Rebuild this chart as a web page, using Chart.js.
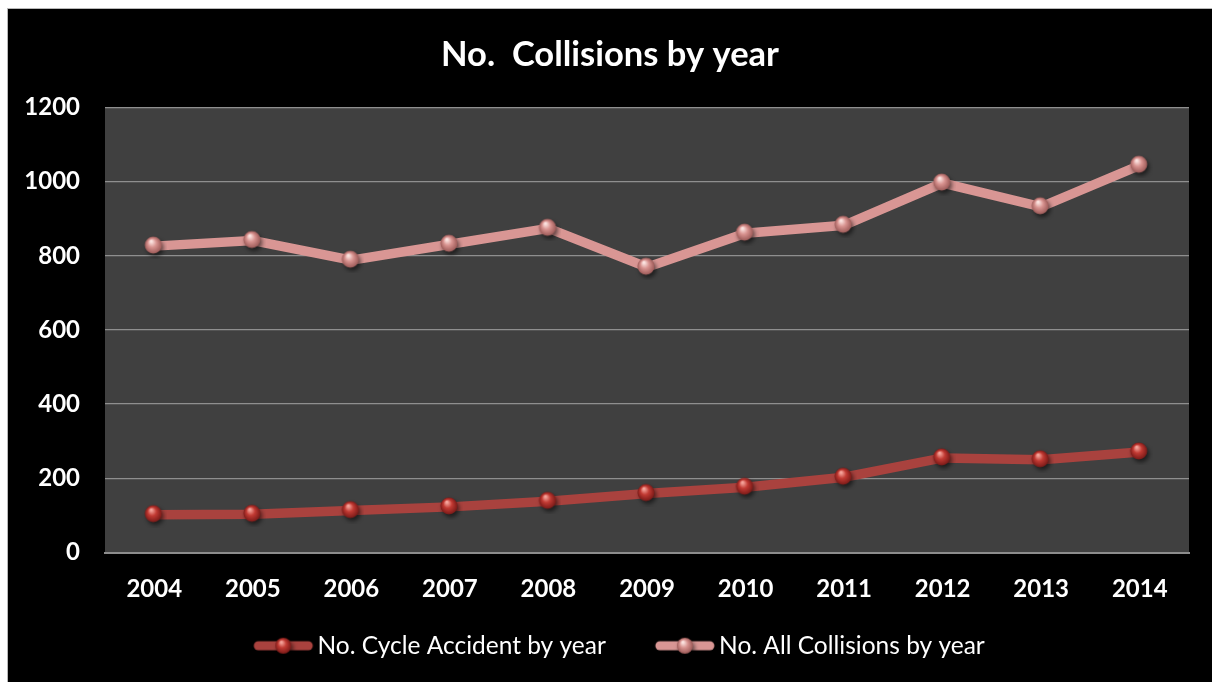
<!DOCTYPE html>
<html>
<head>
<meta charset="utf-8">
<script src="https://cdn.jsdelivr.net/npm/chart.js@4.4.0/dist/chart.umd.min.js"></script>
<style>
  html, body { margin: 0; padding: 0; background: #ffffff; width: 1212px; height: 682px; overflow: hidden; }
  #frame { position: absolute; left: 7px; top: 8px; width: 1205px; height: 674px; background: #000; border-top: 1px solid #b8b8b8; border-left: 1px solid #b8b8b8; box-sizing: border-box; }
  #wrap { position: absolute; left: 0; top: 0; width: 1204px; height: 673px; }
</style>
</head>
<body>
<div id="frame"><div id="wrap"><canvas id="c"></canvas></div></div>
<script>
// ---- data ----
const years = ["2004","2005","2006","2007","2008","2009","2010","2011","2012","2013","2014"];
const cycleAccidents = [102, 103, 113, 123, 138, 159, 176, 203, 255, 250, 271];
const allCollisions = [826, 841, 788, 831, 874, 769, 861, 882, 996, 932, 1044];
const yTicks = [0, 200, 400, 600, 800, 1000, 1200];
const yTickLabels = ["0", "200", "400", "600", "800", "1000", "1200"];
const titleText = "No.  Collisions by year";
const seriesNames = ["No. Cycle Accident by year", "No. All Collisions by year"];

// ---- sphere marker images (styling) ----
function drawSphere(ctx, cx, cy, r, light, mid, dark) {
  ctx.save();
  ctx.shadowColor = 'rgba(0,0,0,0.55)';
  ctx.shadowBlur = 4;
  ctx.shadowOffsetX = 2;
  ctx.shadowOffsetY = 3;
  const g = ctx.createRadialGradient(cx - r*0.25, cy - r*0.45, r*0.1, cx, cy, r);
  g.addColorStop(0, light);
  g.addColorStop(0.45, mid);
  g.addColorStop(1, dark);
  ctx.fillStyle = g;
  ctx.beginPath(); ctx.arc(cx, cy, r, 0, Math.PI*2); ctx.fill();
  ctx.restore();
}
function sphereImage(light, mid, dark) {
  const c = document.createElement('canvas');
  c.width = 26; c.height = 26;
  drawSphere(c.getContext('2d'), 12, 12, 8.5, light, mid, dark);
  return c;
}
// legend marker: image 120 wide, drawn centred in a 70px box
function legendImage(lineColor, light, mid, dark) {
  const c = document.createElement('canvas');
  c.width = 120; c.height = 24;
  const ctx = c.getContext('2d');
  ctx.strokeStyle = lineColor; ctx.lineWidth = 9; ctx.lineCap = 'round';
  ctx.beginPath(); ctx.moveTo(48, 12); ctx.lineTo(98, 12); ctx.stroke();
  drawSphere(ctx, 73, 12, 8, light, mid, dark);
  return c;
}
const cycleColors = { line: '#a9423e', light: '#f4a39a', mid: '#c23a33', dark: '#7a1a18' };
const allColors = { line: '#d99694', light: '#fbe3e0', mid: '#d8928f', dark: '#9c5a58' };
const cycleSphere = sphereImage(cycleColors.light, cycleColors.mid, cycleColors.dark);
const allSphere = sphereImage(allColors.light, allColors.mid, allColors.dark);
const legendImgs = [
  legendImage(cycleColors.line, cycleColors.light, cycleColors.mid, cycleColors.dark),
  legendImage(allColors.line, allColors.light, allColors.mid, allColors.dark)
];

const plotBg = {
  id: 'plotBg',
  afterLayout(chart) {
    // let the y tick labels use the left margin (avoid label clipping)
    if (chart.scales.y) chart.scales.y.left = 0;
  },
  beforeDraw(chart) {
    const {ctx, chartArea: a} = chart;
    ctx.save();
    ctx.fillStyle = '#404040';
    ctx.fillRect(a.left, a.top, a.right - a.left, a.bottom - a.top);
    ctx.restore();
  }
};

new Chart(document.getElementById('c'), {
  type: 'line',
  data: {
    labels: years,
    datasets: [
      {
        label: seriesNames[0],
        data: cycleAccidents,
        borderColor: cycleColors.line,
        backgroundColor: cycleColors.line,
        borderWidth: 9.5,
        pointStyle: cycleSphere,
        tension: 0
      },
      {
        label: seriesNames[1],
        data: allCollisions,
        borderColor: allColors.line,
        backgroundColor: allColors.line,
        borderWidth: 9.5,
        pointStyle: allSphere,
        tension: 0
      }
    ]
  },
  options: {
    responsive: true,
    maintainAspectRatio: false,
    animation: false,
    events: [],
    layout: { padding: { left: 23, right: 23, top: 0, bottom: 14 } },
    plugins: {
      title: {
        display: true,
        text: titleText,
        color: '#ffffff',
        font: { family: 'Lato', size: 34.5, weight: 'bold' },
        padding: { top: 25, bottom: 32 }
      },
      legend: {
        position: 'bottom',
        labels: {
          color: '#ffffff',
          font: { family: 'Lato', size: 24.5 },
          usePointStyle: true,
          pointStyleWidth: 70,
          padding: 31,
          generateLabels(chart) {
            return chart.data.datasets.map((ds, i) => ({
              text: ds.label,
              fillStyle: ds.borderColor,
              strokeStyle: ds.borderColor,
              fontColor: '#ffffff',
              lineWidth: 0,
              pointStyle: legendImgs[i],
              datasetIndex: i,
              hidden: false
            }));
          }
        }
      },
      tooltip: { enabled: false }
    },
    scales: {
      x: {
        offset: true,
        grid: { display: false, drawTicks: false },
        border: { display: true, color: '#8c8c8c', width: 2 },
        ticks: { color: '#ffffff', font: { family: 'Lato', size: 24, weight: 'bold' }, padding: 22 },
        afterFit(scale) { scale.height = 50; }
      },
      y: {
        min: 0,
        max: 1200,
        afterBuildTicks(scale) { scale.ticks = yTicks.map(v => ({ value: v })); },
        grid: { color: '#8f8f8f', lineWidth: 1.3, drawTicks: false },
        border: { display: false },
        ticks: {
          color: '#ffffff',
          font: { family: 'Lato', size: 24, weight: 'bold' },
          padding: 25,
          callback(value) { const i = yTicks.indexOf(value); return i >= 0 ? yTickLabels[i] : ''; }
        },
        afterFit(scale) { scale.width = 74; }
      }
    }
  },
  plugins: [plotBg]
});
</script>
</body>
</html>
